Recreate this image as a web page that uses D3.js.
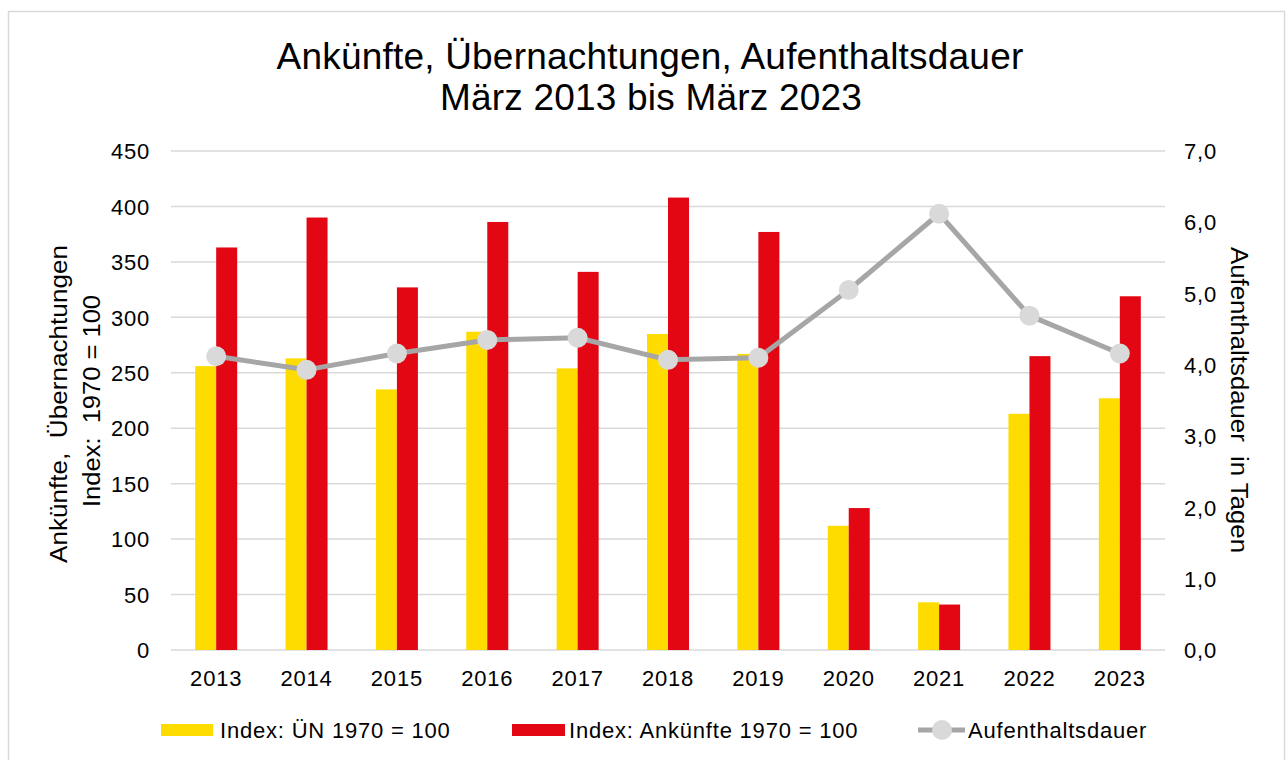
<!DOCTYPE html>
<html>
<head>
<meta charset="utf-8">
<script src="https://cdn.jsdelivr.net/npm/d3@7"></script>
<style>
  body { margin: 0; background: #fff; }
  svg text { font-family: "Liberation Sans", Arial, sans-serif; fill: #000; }
</style>
</head>
<body>
<svg id="chart" width="1288" height="760"></svg>
<script>
var years = ["2013", "2014", "2015", "2016", "2017", "2018", "2019", "2020", "2021", "2022", "2023"];
var uebernachtungen = [256, 263, 235, 287, 254, 285, 267, 112, 43, 213, 227];
var ankuenfte = [363, 390, 327, 386, 341, 408, 377, 128, 41, 265, 319];
var aufenthalt = [4.12, 3.93, 4.16, 4.35, 4.38, 4.07, 4.10, 5.05, 6.12, 4.69, 4.16];
var leftTicks = [0, 50, 100, 150, 200, 250, 300, 350, 400, 450];
var rightTicks = [0, 1, 2, 3, 4, 5, 6, 7];

var svg = d3.select("#chart"),
    margin = { top: 151, right: 123, bottom: 110, left: 171 },
    width = 1288 - margin.left - margin.right,
    height = 760 - margin.top - margin.bottom;

// chart border
svg.append("rect")
    .attr("x", 8.5).attr("y", 11.5)
    .attr("width", 1276).attr("height", 760)
    .attr("fill", "none").attr("stroke", "#d9d9d9").attr("stroke-width", 1.5);

var g = svg.append("g").attr("transform", "translate(" + margin.left + "," + margin.top + ")");

var x = d3.scaleBand().domain(years).range([0, width]);
var y = d3.scaleLinear().domain([0, 450]).range([height, 0]);
var y2 = d3.scaleLinear().domain([0, 7]).range([height, 0]);
var barW = 21;

// gridlines
g.append("g")
    .selectAll("line")
    .data(leftTicks)
    .enter().append("line")
    .attr("x1", 0).attr("x2", width)
    .attr("y1", function (d) { return y(d); })
    .attr("y2", function (d) { return y(d); })
    .attr("stroke", "#d9d9d9").attr("stroke-width", 1.5);

// bars
g.append("g").selectAll("rect")
    .data(uebernachtungen)
    .enter().append("rect")
    .attr("x", function (d, i) { return x(years[i]) + x.bandwidth() / 2 - barW; })
    .attr("y", function (d) { return y(d); })
    .attr("width", barW)
    .attr("height", function (d) { return height - y(d); })
    .attr("fill", "#ffdc00");

g.append("g").selectAll("rect")
    .data(ankuenfte)
    .enter().append("rect")
    .attr("x", function (d, i) { return x(years[i]) + x.bandwidth() / 2; })
    .attr("y", function (d) { return y(d); })
    .attr("width", barW)
    .attr("height", function (d) { return height - y(d); })
    .attr("fill", "#e30613");

// line
var line = d3.line()
    .x(function (d, i) { return x(years[i]) + x.bandwidth() / 2; })
    .y(function (d) { return y2(d); });

g.append("path")
    .datum(aufenthalt)
    .attr("d", line)
    .attr("fill", "none")
    .attr("stroke", "#a6a6a6")
    .attr("stroke-width", 5)
    .attr("stroke-linejoin", "round");

g.append("g").selectAll("circle")
    .data(aufenthalt)
    .enter().append("circle")
    .attr("cx", function (d, i) { return x(years[i]) + x.bandwidth() / 2; })
    .attr("cy", function (d) { return y2(d); })
    .attr("r", 10)
    .attr("fill", "#d9d9d9");

// axes
function styleTicks(sel) {
    sel.select(".domain").remove();
    sel.selectAll("text").style("font-size", "22px").style("letter-spacing", "0.8px");
}

var axL = g.append("g")
    .call(d3.axisLeft(y).tickValues(leftTicks).tickSize(0).tickPadding(21));
styleTicks(axL);
axL.selectAll("text").attr("dy", "0.35em");

var axR = g.append("g")
    .attr("transform", "translate(" + width + ",0)")
    .call(d3.axisRight(y2).tickValues(rightTicks).tickSize(0).tickPadding(19)
        .tickFormat(function (d) { return d3.format(".1f")(d).replace(".", ","); }));
styleTicks(axR);
axR.selectAll("text").attr("dy", "0.35em");

var axB = g.append("g")
    .attr("transform", "translate(0," + height + ")")
    .call(d3.axisBottom(x).tickSize(0).tickPadding(20));
styleTicks(axB);

// titles
svg.append("text")
    .attr("x", 650).attr("y", 69)
    .attr("text-anchor", "middle")
    .style("font-size", "37px")
    .style("letter-spacing", "0.2px")
    .text("Ankünfte, Übernachtungen, Aufenthaltsdauer");
svg.append("text")
    .attr("x", 651).attr("y", 110)
    .attr("text-anchor", "middle")
    .style("font-size", "37px")
    .style("letter-spacing", "0.2px")
    .text("März 2013 bis März 2023");

function axisTitle(tx, ty, rot, len, txt) {
    svg.append("text")
        .attr("transform", "translate(" + tx + "," + ty + ") rotate(" + rot + ")")
        .attr("text-anchor", "middle")
        .attr("textLength", len)
        .attr("lengthAdjust", "spacingAndGlyphs")
        .style("font-size", "23px")
        .style("white-space", "pre")
        .text(txt);
}
axisTitle(67, 404, -90, 318, "Ankünfte,  Übernachtungen");
axisTitle(100, 401, -90, 212, "Index:  1970 = 100");
axisTitle(1231, 400, 90, 306, "Aufenthaltsdauer  in Tagen");

// legend
var leg = svg.append("g").attr("transform", "translate(0,730)");
leg.append("rect").attr("x", 161).attr("y", -6).attr("width", 52).attr("height", 12).attr("fill", "#ffdc00");
leg.append("rect").attr("x", 512).attr("y", -6).attr("width", 53).attr("height", 12).attr("fill", "#e30613");
leg.append("line").attr("x1", 918).attr("x2", 965).attr("y1", 0).attr("y2", 0).attr("stroke", "#a6a6a6").attr("stroke-width", 5);
leg.append("circle").attr("cx", 942).attr("cy", 0).attr("r", 10).attr("fill", "#d9d9d9");
[[220, "Index: ÜN 1970 = 100"], [569, "Index: Ankünfte 1970 = 100"], [968, "Aufenthaltsdauer"]].forEach(function (t) {
    leg.append("text").attr("x", t[0]).attr("y", 0).attr("dy", "0.35em")
        .style("font-size", "22px").style("letter-spacing", "0.8px").text(t[1]);
});
</script>
</body>
</html>
